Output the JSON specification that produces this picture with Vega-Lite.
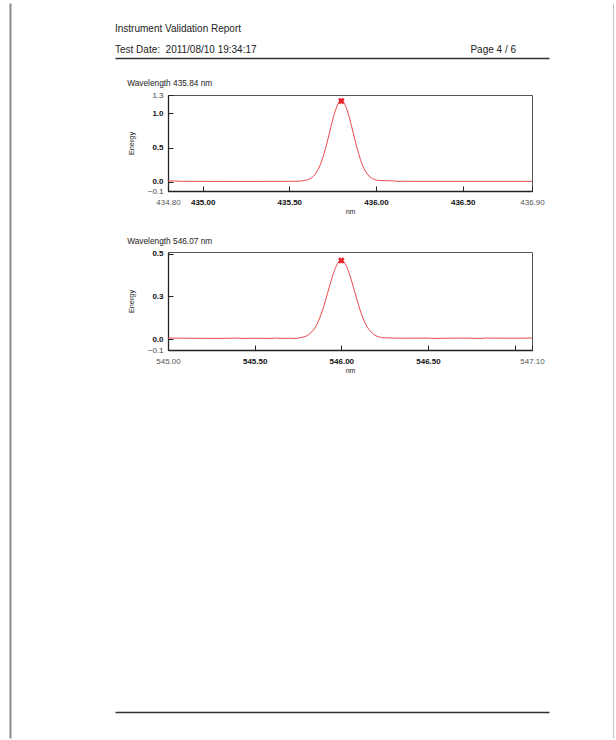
{
  "$schema": "https://vega.github.io/schema/vega-lite/v6.json",
  "background": "white",
  "padding": {"left": 10, "top": -3, "right": 0, "bottom": 0},
  "config": {
    "font": "Liberation Sans",
    "view": {"stroke": "#555", "strokeWidth": 1},
    "title": {"font": "Liberation Sans", "fontWeight": "normal", "color": "#222"},
    "axis": {"labelFont": "Liberation Sans", "titleFont": "Liberation Sans", "grid": false, "labelOverlap": false}
  },
  "datasets": {
    "header": [
      {"label": "Test Date:\u00a0 2011/08/10 19:34:17"},
      {"label": "Page 4 / 6"}
    ],
    "s1": [
      {"nm": 434.80, "energy": 0.012}, {"nm": 434.84, "energy": 0.010}, {"nm": 434.88, "energy": 0.006},
      {"nm": 435.00, "energy": 0.005}, {"nm": 435.20, "energy": 0.004}, {"nm": 435.40, "energy": 0.005},
      {"nm": 435.50, "energy": 0.005}, {"nm": 435.56, "energy": 0.008}, {"nm": 435.58, "energy": 0.016},
      {"nm": 435.60, "energy": 0.025}, {"nm": 435.62, "energy": 0.045}, {"nm": 435.64, "energy": 0.083},
      {"nm": 435.66, "energy": 0.150}, {"nm": 435.68, "energy": 0.257}, {"nm": 435.70, "energy": 0.407},
      {"nm": 435.72, "energy": 0.596}, {"nm": 435.74, "energy": 0.803}, {"nm": 435.76, "energy": 0.994},
      {"nm": 435.78, "energy": 1.13}, {"nm": 435.80, "energy": 1.18}, {"nm": 435.82, "energy": 1.13},
      {"nm": 435.84, "energy": 0.994}, {"nm": 435.86, "energy": 0.803}, {"nm": 435.88, "energy": 0.596},
      {"nm": 435.90, "energy": 0.407}, {"nm": 435.92, "energy": 0.257}, {"nm": 435.94, "energy": 0.150},
      {"nm": 435.96, "energy": 0.083}, {"nm": 435.98, "energy": 0.045}, {"nm": 436.00, "energy": 0.025},
      {"nm": 436.02, "energy": 0.018}, {"nm": 436.06, "energy": 0.015}, {"nm": 436.10, "energy": 0.012},
      {"nm": 436.12, "energy": 0.006}, {"nm": 436.30, "energy": 0.005}, {"nm": 436.60, "energy": 0.005},
      {"nm": 436.90, "energy": 0.005}
    ],
    "p1": [{"nm": 435.80, "energy": 1.18}],
    "s2": [
      {"nm": 545.00, "energy": 0.006}, {"nm": 545.10, "energy": 0.005}, {"nm": 545.30, "energy": 0.004},
      {"nm": 545.40, "energy": 0.006}, {"nm": 545.42, "energy": 0.004}, {"nm": 545.50, "energy": 0.005},
      {"nm": 545.60, "energy": 0.004}, {"nm": 545.62, "energy": 0.006}, {"nm": 545.66, "energy": 0.004},
      {"nm": 545.70, "energy": 0.005}, {"nm": 545.74, "energy": 0.004}, {"nm": 545.76, "energy": 0.008},
      {"nm": 545.78, "energy": 0.012}, {"nm": 545.80, "energy": 0.019}, {"nm": 545.82, "energy": 0.033},
      {"nm": 545.84, "energy": 0.055}, {"nm": 545.86, "energy": 0.088}, {"nm": 545.88, "energy": 0.136},
      {"nm": 545.90, "energy": 0.196}, {"nm": 545.92, "energy": 0.267}, {"nm": 545.94, "energy": 0.338},
      {"nm": 545.96, "energy": 0.401}, {"nm": 545.98, "energy": 0.445}, {"nm": 546.00, "energy": 0.46},
      {"nm": 546.02, "energy": 0.445}, {"nm": 546.04, "energy": 0.401}, {"nm": 546.06, "energy": 0.338},
      {"nm": 546.08, "energy": 0.267}, {"nm": 546.10, "energy": 0.196}, {"nm": 546.12, "energy": 0.136},
      {"nm": 546.14, "energy": 0.088}, {"nm": 546.16, "energy": 0.055}, {"nm": 546.18, "energy": 0.033},
      {"nm": 546.20, "energy": 0.019}, {"nm": 546.22, "energy": 0.012}, {"nm": 546.24, "energy": 0.008},
      {"nm": 546.30, "energy": 0.006}, {"nm": 546.36, "energy": 0.005}, {"nm": 546.50, "energy": 0.006},
      {"nm": 546.52, "energy": 0.004}, {"nm": 546.60, "energy": 0.005}, {"nm": 546.70, "energy": 0.006},
      {"nm": 546.80, "energy": 0.004}, {"nm": 546.84, "energy": 0.006}, {"nm": 547.00, "energy": 0.005},
      {"nm": 547.10, "energy": 0.006}
    ],
    "p2": [{"nm": 546.00, "energy": 0.46}],
    "footer": [{"k": "a"}, {"k": "b"}]
  },
  "bounds": "flush",
  "spacing": 61,
  "vconcat": [
    {
      "width": 364,
      "height": 20,
      "view": {"stroke": null},
      "title": {"text": "Instrument Validation Report", "anchor": "start", "frame": "group", "fontSize": 10, "offset": 5, "dx": -53, "dy": 42},
      "data": {"name": "header"},
      "layer": [
        {"transform": [{"filter": "datum.label != 'Page 4 / 6'"}],
         "mark": {"type": "text", "align": "left", "dy": 26, "fontSize": 10, "color": "#222"},
         "encoding": {
           "x": {"field": "label", "type": "nominal", "sort": null,
                 "scale": {"type": "point", "padding": 0, "range": [-53, 381]},
                 "axis": {"labels": false, "ticks": false, "title": null, "domain": true, "offset": 24, "domainColor": "#333", "domainWidth": 1.5}},
           "text": {"field": "label"}
         }},
        {"transform": [{"filter": "datum.label == 'Page 4 / 6'"}],
         "mark": {"type": "text", "align": "right", "dx": -33, "dy": 26, "fontSize": 10, "color": "#222"},
         "encoding": {
           "x": {"field": "label", "type": "nominal", "sort": null},
           "text": {"field": "label"}
         }},
        {"mark": {"type": "text", "text": ""},
         "encoding": {
           "x": {"field": "label", "type": "nominal", "sort": null},
           "y": {"field": "label", "type": "nominal", "sort": null,
                 "scale": {"type": "point", "padding": 0, "range": [-11, 724]},
                 "axis": {"orient": "right", "offset": 82, "labels": false, "ticks": false, "title": null, "domainColor": "#8a8a8a", "domainWidth": 2}}
         }}
      ]
    },
    {
      "width": 364,
      "height": 96,
      "view": {"stroke": "#555"},
      "title": {"text": "Wavelength 435.84 nm", "anchor": "start", "frame": "bounds", "fontSize": 8.3, "offset": 4},
      "layer": [
        {
          "data": {"name": "s1"},
          "mark": {"type": "line", "color": "#e8474a", "strokeWidth": 1, "interpolate": "monotone"},
          "encoding": {
            "x": {"field": "nm", "type": "quantitative",
                  "scale": {"domain": [434.8, 436.9], "nice": false, "zero": false},
                  "axis": {"values": [434.8, 435, 435.5, 436, 436.5, 436.9], "format": ".2f", "tickCount": 20,
                           "title": "nm", "titleFontSize": 7, "titleFontWeight": "normal", "titleColor": "#222", "titlePadding": 1,
                           "labelFontSize": 8, "labelPadding": 12, "labelFlush": false, "labelOverlap": false, "labelBound": false,
                           "labelFontWeight": {"condition": {"test": "datum.value > 434.85 && datum.value < 436.85", "value": "bold"}, "value": "normal"},
                           "labelColor": {"condition": {"test": "datum.value > 434.85 && datum.value < 436.85", "value": "#111"}, "value": "#555"},
                           "tickSize": -5, "tickColor": "#222", "domainColor": "#222", "domainWidth": 1.3}},
            "y": {"field": "energy", "type": "quantitative",
                  "scale": {"domain": [-0.136, 1.268], "nice": false, "zero": false},
                  "axis": {"values": [-0.136, 0, 0.5, 1, 1.268], "format": ".1f", "tickCount": 20,
                           "title": "Energy", "titleFontSize": 7.3, "titleFontWeight": "normal", "titleColor": "#222", "titlePadding": 12,
                           "labelFontSize": 8, "labelPadding": 10, "labelOverlap": false, "labelBound": false, "labelFlush": false,
                           "labelFontWeight": {"condition": {"test": "datum.value > -0.1 && datum.value < 1.2", "value": "bold"}, "value": "normal"},
                           "labelColor": {"condition": {"test": "datum.value > -0.1 && datum.value < 1.2", "value": "#111"}, "value": "#444"},
                           "tickSize": -5, "tickColor": "#222", "domainColor": "#222", "domainWidth": 1.3}}
          }
        },
        {
          "data": {"name": "p1"},
          "mark": {"type": "point", "shape": "cross", "angle": 45, "filled": true, "color": "#e8202a", "size": 45, "opacity": 1},
          "encoding": {
            "x": {"field": "nm", "type": "quantitative"},
            "y": {"field": "energy", "type": "quantitative"}
          }
        }
      ]
    },
    {
      "width": 364,
      "height": 98,
      "view": {"stroke": "#555"},
      "title": {"text": "Wavelength 546.07 nm", "anchor": "start", "frame": "bounds", "fontSize": 8.3, "offset": 4},
      "layer": [
        {
          "data": {"name": "s2"},
          "mark": {"type": "line", "color": "#e8474a", "strokeWidth": 1, "interpolate": "monotone"},
          "encoding": {
            "x": {"field": "nm", "type": "quantitative",
                  "scale": {"domain": [545.0, 547.1], "nice": false, "zero": false},
                  "axis": {"values": [545, 545.5, 546, 546.5, 547, 547.1], "tickCount": 20,
                           "labelExpr": "datum.value == 547 ? '' : format(datum.value, '.2f')",
                           "title": "nm", "titleFontSize": 7, "titleFontWeight": "normal", "titleColor": "#222", "titlePadding": 1,
                           "labelFontSize": 8, "labelPadding": 12, "labelFlush": false, "labelOverlap": false, "labelBound": false,
                           "labelFontWeight": {"condition": {"test": "datum.value > 545.05 && datum.value < 547.05", "value": "bold"}, "value": "normal"},
                           "labelColor": {"condition": {"test": "datum.value > 545.05 && datum.value < 547.05", "value": "#111"}, "value": "#555"},
                           "tickSize": -5, "tickColor": "#222", "domainColor": "#222", "domainWidth": 1.3}},
            "y": {"field": "energy", "type": "quantitative",
                  "scale": {"domain": [-0.064, 0.51], "nice": false, "zero": false},
                  "axis": {"values": [-0.064, 0, 0.25, 0.5], "format": ".1f", "tickCount": 20,
                           "title": "Energy", "titleFontSize": 7.3, "titleFontWeight": "normal", "titleColor": "#222", "titlePadding": 12,
                           "labelFontSize": 8, "labelPadding": 10, "labelOverlap": false, "labelBound": false, "labelFlush": false,
                           "labelFontWeight": {"condition": {"test": "datum.value > -0.05", "value": "bold"}, "value": "normal"},
                           "labelColor": {"condition": {"test": "datum.value > -0.05", "value": "#111"}, "value": "#444"},
                           "tickSize": -5, "tickColor": "#222", "domainColor": "#222", "domainWidth": 1.3}}
          }
        },
        {
          "data": {"name": "p2"},
          "mark": {"type": "point", "shape": "cross", "angle": 45, "filled": true, "color": "#e8202a", "size": 45, "opacity": 1},
          "encoding": {
            "x": {"field": "nm", "type": "quantitative"},
            "y": {"field": "energy", "type": "quantitative"}
          }
        }
      ]
    },
    {
      "width": 364,
      "height": 301,
      "view": {"stroke": null},
      "data": {"name": "footer"},
      "mark": {"type": "text", "text": ""},
      "encoding": {
        "x": {"field": "k", "type": "nominal", "sort": null,
              "scale": {"type": "point", "padding": 0, "range": [-53, 381]},
              "axis": {"orient": "bottom", "labels": false, "ticks": false, "title": null, "domainColor": "#333", "domainWidth": 1.5}},
        "y": {"field": "k", "type": "nominal", "sort": null,
              "scale": {"type": "point", "padding": 0, "range": [-408, 327]},
              "axis": {"orient": "left", "offset": 158, "labels": false, "ticks": false, "title": null, "domainColor": "#8a8a8a", "domainWidth": 2}}
      }
    }
  ]
}
